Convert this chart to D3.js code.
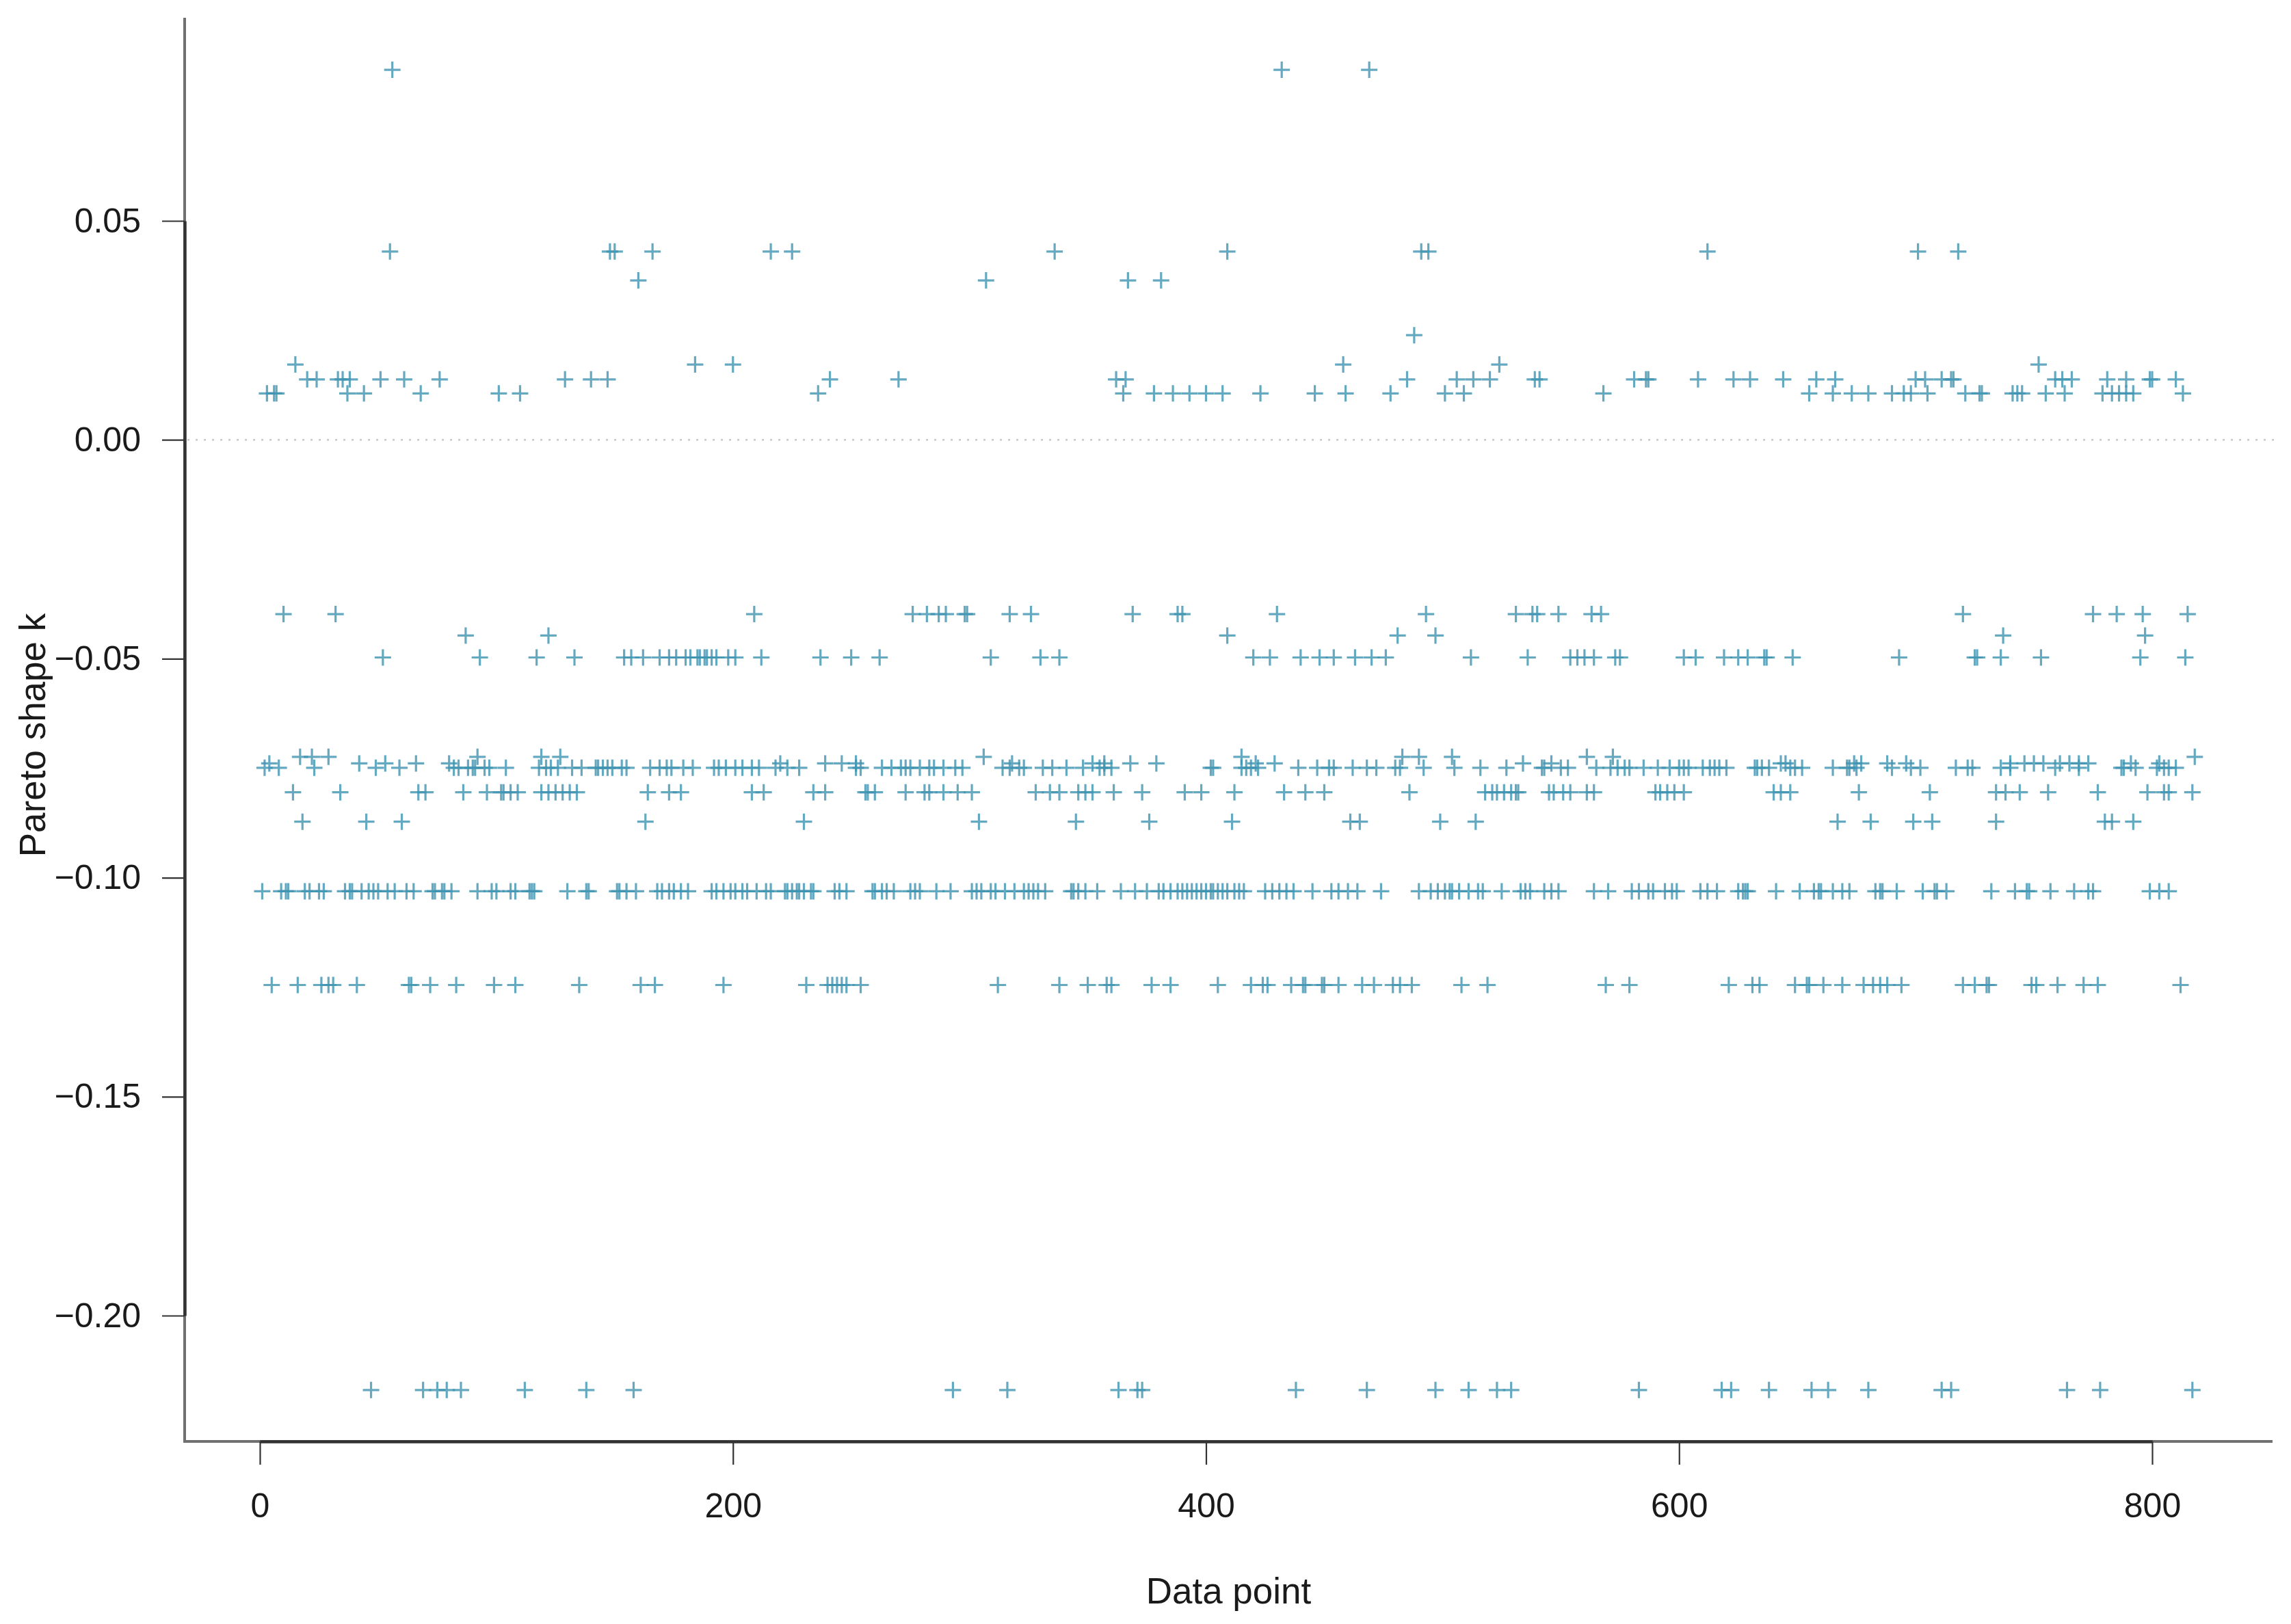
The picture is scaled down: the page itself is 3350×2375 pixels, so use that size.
<!DOCTYPE html>
<html>
<head>
<meta charset="utf-8">
<script src="https://cdn.jsdelivr.net/npm/d3@7"></script>
<style>
  html, body { margin: 0; padding: 0; background: #fff; }
  svg { display: block; font-family: "Liberation Sans", Arial, sans-serif; }
</style>
</head>
<body>
<svg id="chart" width="3350" height="2375"></svg>
<script>
// ---- Data ----
// Data-point indices at each discrete Pareto-shape level k
const xTicks = [0, 200, 400, 600, 800];
const yTicks = [0.05, 0.00, -0.05, -0.10, -0.15, -0.20];
const xLabel = "Data point";
const yLabel = "Pareto shape k";

const pts_p0848 = [56, 432, 469];
const pts_p0430 = [55, 148, 150, 166, 216, 225, 336, 409, 491, 494, 612, 701, 718];
const pts_p0364 = [160, 307, 367, 381];
const pts_p0239 = [488];
const pts_p0172 = [15, 184, 200, 458, 524, 752];
const pts_p0138 = [20, 24, 33, 35, 38, 51, 61, 76, 129, 140, 147, 241, 270, 362, 366, 485, 506, 513, 520, 539, 541, 581, 586, 587, 608, 623, 630, 644, 658, 666, 700, 704, 711, 715, 716, 759, 762, 766, 781, 789, 799, 800, 810];
const pts_p0106 = [3, 6, 7, 37, 44, 68, 101, 110, 236, 365, 378, 386, 393, 400, 407, 423, 446, 459, 478, 501, 509, 568, 655, 665, 673, 680, 690, 695, 698, 705, 721, 727, 728, 741, 743, 745, 755, 763, 779, 783, 786, 789, 792, 813];
const pts_m0398 = [10, 32, 209, 276, 282, 287, 290, 298, 299, 317, 326, 369, 388, 390, 430, 493, 531, 538, 540, 549, 563, 567, 720, 775, 785, 796, 815];
const pts_m0447 = [87, 122, 409, 481, 497, 737, 797];
const pts_m0497 = [52, 93, 117, 133, 154, 157, 162, 169, 173, 176, 180, 182, 185, 186, 188, 189, 191, 193, 198, 201, 212, 237, 250, 262, 309, 330, 338, 420, 427, 440, 448, 454, 463, 470, 476, 512, 536, 554, 557, 560, 564, 573, 575, 602, 607, 619, 625, 629, 636, 637, 648, 693, 725, 726, 736, 753, 795, 814];
const pts_m0724 = [17, 22, 29, 92, 119, 127, 306, 415, 483, 490, 504, 561, 572, 818];
const pts_m0739 = [4, 42, 53, 66, 80, 220, 239, 246, 252, 318, 352, 357, 368, 379, 421, 429, 534, 546, 643, 645, 674, 677, 688, 696, 740, 746, 750, 754, 761, 765, 769, 773, 791, 803];
const pts_m0749 = [2, 8, 23, 49, 59, 82, 84, 88, 90, 91, 95, 97, 104, 118, 121, 123, 126, 132, 136, 142, 143, 145, 147, 149, 153, 155, 165, 169, 172, 174, 179, 183, 192, 194, 197, 201,
  204, 208, 211, 218, 223, 228, 252, 254, 263, 267, 271, 273, 275, 279, 283, 285, 289, 294, 297, 314, 317, 321, 323, 331, 335, 341, 348, 355, 357, 360, 402, 403,
  415, 417, 419, 422, 439, 447, 452, 454, 462, 468, 472, 480, 482, 492, 505, 516, 527, 542, 543, 550, 553, 565, 571, 574, 577, 579, 585, 591, 596, 600, 602, 604, 610, 613, 615, 617,
  620, 632, 633, 635, 638, 647, 649, 652, 665, 671, 672, 675, 690, 698, 702, 717, 722, 724, 736, 740, 759, 769, 787, 788, 793, 802, 805, 807, 810];
const pts_m0805 = [14, 34, 67, 70, 86, 96, 102, 103, 106, 109, 119, 122, 125, 128, 131, 134, 164, 173, 178,
  208, 213, 234, 239, 256, 257, 260, 273, 281, 283, 289, 295, 301, 328, 334, 338, 346, 349, 352, 361, 373, 391, 398,
  412, 433, 442, 450, 486, 518, 521, 523, 526, 529, 531, 532, 545, 547, 551, 554, 561, 564, 590, 592, 595, 598, 602,
  640, 643, 647, 676, 706, 734, 738, 744, 756, 777, 798, 805, 807, 817];
const pts_m0872 = [18, 45, 60, 163, 230, 304, 345, 376, 411, 461, 465, 499, 514, 667, 681, 699, 707, 734, 780, 783, 792];
const pts_m1031 = [1, 9, 11, 12, 19, 21, 25, 27, 36, 38, 39, 43, 46, 48, 50, 54, 57, 62, 65, 73, 74, 77, 78, 81, 92, 98, 100, 106, 108, 114, 115, 116, 130, 138, 139, 151, 152, 155, 159, 168, 170, 173, 175, 178, 181, 191, 193, 196, 199, 201,
  204, 206, 210, 214, 216, 222, 223, 225, 227, 228, 230, 233, 234, 243, 245, 248, 259, 260, 263, 265, 268, 275, 277, 279, 286, 292, 301, 303, 305, 309, 311, 315, 319, 323, 325, 327, 329, 332, 343, 344, 346, 349, 354, 364, 370, 375, 380, 382, 385, 388, 390, 392, 394, 396, 398, 400, 402, 403, 405, 407, 409,
  412, 414, 416, 425, 428, 431, 434, 437, 445, 453, 456, 460, 464, 474, 490, 495, 498, 501, 503, 504, 507, 511, 515, 517, 525, 533, 535, 537, 543, 546, 549, 564, 570, 580, 583, 587, 589, 594, 597, 599, 609, 612, 616,
  625, 627, 628, 629, 641, 651, 657, 659, 660, 665, 669, 672, 683, 685, 686, 692, 703, 708, 709, 713, 732, 742, 747, 748, 757, 767, 773, 775, 799, 803, 807];
const pts_m1245 = [5, 16, 26, 29, 31, 41, 63, 64, 72, 83, 99, 108, 135, 161, 167, 196,
  231, 240, 242, 244, 246, 248, 254, 312, 338, 350, 358, 360, 377, 385, 405,
  419, 424, 426, 436, 441, 442, 449, 450, 456, 466, 471, 479, 482, 487, 508, 519, 569, 579,
  621, 631, 634, 649, 654, 655, 661, 669, 678, 682, 685, 688, 694, 720, 725, 730, 731, 749, 751, 760, 771, 777, 812];
const pts_m2170 = [47, 69, 75, 79, 85, 112, 138, 158, 293, 316, 363, 371, 373, 438, 468, 497, 511, 523, 529, 583, 618, 622, 638, 656, 663, 680, 711, 715, 764, 778, 817];

const kLevels = [0.0845, 0.0430, 0.0364, 0.0239, 0.0172, 0.0138, 0.0106, -0.0398, -0.0447, -0.0497, -0.0724, -0.0739, -0.0749, -0.0805, -0.0872, -0.1031, -0.1245, -0.2170];
const kGroups = [pts_p0848, pts_p0430, pts_p0364, pts_p0239, pts_p0172, pts_p0138, pts_p0106, pts_m0398, pts_m0447, pts_m0497, pts_m0724, pts_m0739, pts_m0749, pts_m0805, pts_m0872, pts_m1031, pts_m1245, pts_m2170];

const points = [];
kGroups.forEach((g, i) => g.forEach(x => points.push({ x: x, k: kLevels[i] })));

// ---- Layout ----
const svg = d3.select("#chart");
const axisX = 270, axisY = 2108, frameTop = 26, frameRight = 3323;

const x = d3.scaleLinear().domain([0, 800]).range([380, 3147]);
const y = d3.scaleLinear().domain([0.05, -0.20]).range([323, 1924]);

const font = "50px";
const titleFont = "53px";
const ink = "#1a1a1a";

// full-length frame (L shape)
svg.append("path")
  .attr("d", `M${axisX},${frameTop}V${axisY}H${frameRight}`)
  .attr("fill", "none").attr("stroke", "#707070").attr("stroke-width", 4);

// zero reference line (dotted)
svg.append("line")
  .attr("x1", axisX + 4).attr("x2", frameRight + 10)
  .attr("y1", y(0)).attr("y2", y(0))
  .attr("stroke", "#c8c8c8").attr("stroke-width", 2.5)
  .attr("stroke-dasharray", "3,9");

// axes
const yAxis = d3.axisLeft(y).tickValues(yTicks).tickFormat(d3.format(".2f"))
  .tickSize(33).tickSizeOuter(0).tickPadding(31);
const gy = svg.append("g").attr("transform", `translate(${axisX},0)`).call(yAxis);

const xAxis = d3.axisBottom(x).tickValues(xTicks).tickFormat(d3.format("d"))
  .tickSize(34).tickSizeOuter(0).tickPadding(41);
const gx = svg.append("g").attr("transform", `translate(0,${axisY})`).call(xAxis);

[gx, gy].forEach(g => {
  g.select(".domain").attr("stroke", "#333").attr("stroke-width", 4.5);
  g.selectAll(".tick line").attr("stroke", "#333").attr("stroke-width", 2.2);
  g.selectAll(".tick text").attr("fill", ink)
    .style("font-size", font).style("font-family", "'Liberation Sans', Arial, sans-serif");
});

// axis titles
svg.append("text")
  .attr("x", (axisX + frameRight) / 2).attr("y", 2345)
  .attr("text-anchor", "middle")
  .style("font-size", titleFont).attr("fill", ink)
  .text(xLabel);

svg.append("text")
  .attr("transform", `translate(66,1075) rotate(-90)`)
  .attr("text-anchor", "middle")
  .style("font-size", titleFont).attr("fill", ink)
  .text(yLabel);

// markers: '+'
const h = 12;
svg.append("g")
  .selectAll("path")
  .data(points)
  .join("path")
  .attr("transform", d => `translate(${x(d.x)},${y(d.k)})`)
  .attr("d", `M${-h},0H${h}M0,${-h}V${h}`)
  .attr("fill", "none")
  .attr("stroke", "#3f93b2")
  .attr("stroke-opacity", 0.8)
  .attr("stroke-width", 3.2);
</script>
</body>
</html>
